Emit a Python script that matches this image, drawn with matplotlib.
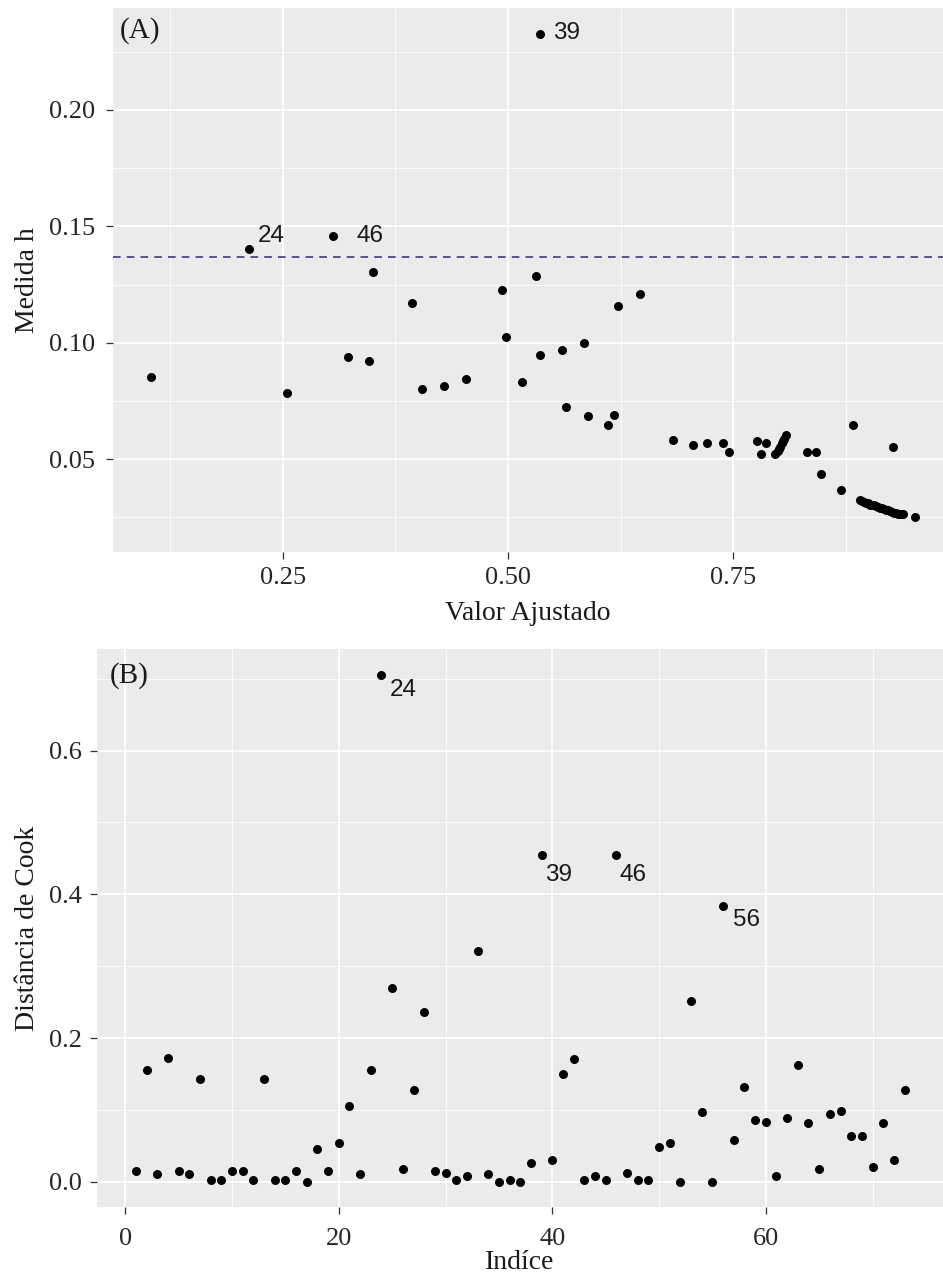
import matplotlib
matplotlib.use('Agg')
import matplotlib.pyplot as plt
from matplotlib.ticker import MultipleLocator

# (A) valores ajustados x medida h (alavancagem), n = 73, p = 5
ajustado = [0.2126, 0.5355, 0.3054,
            0.3498, 0.3938, 0.4936, 0.5314, 0.6217, 0.6464,
            0.1039, 0.2547, 0.3228, 0.3454, 0.4049, 0.4293, 0.4534, 0.4977,
            0.5155, 0.5355, 0.5595, 0.5843, 0.5646, 0.5884, 0.6106, 0.6176,
            0.6834, 0.7056, 0.7211, 0.7389, 0.7455, 0.7759, 0.7859, 0.7810,
            0.7962, 0.7990, 0.8017, 0.8040, 0.8067, 0.8089, 0.8003, 0.8054,
            0.8313, 0.8413, 0.8472, 0.8691, 0.8831, 0.9275, 0.9512,
            0.8905, 0.8927, 0.8950, 0.8972, 0.8994, 0.9016, 0.9038, 0.9060,
            0.9083, 0.9105, 0.9127, 0.9149, 0.9171, 0.9194, 0.9216, 0.9238,
            0.9260, 0.9282, 0.9305, 0.9327, 0.9349, 0.9371, 0.9382, 0.9360,
            0.9005]
medida_h = [0.1404, 0.2325, 0.1457,
            0.1303, 0.1171, 0.1225, 0.1288, 0.1157, 0.1211,
            0.0854, 0.0784, 0.0939, 0.0923, 0.0800, 0.0814, 0.0846, 0.1025,
            0.0832, 0.0948, 0.0969, 0.1000, 0.0723, 0.0684, 0.0646, 0.0691,
            0.0582, 0.0560, 0.0568, 0.0568, 0.0530, 0.0577, 0.0568, 0.0522,
            0.0522, 0.0537, 0.0552, 0.0570, 0.0587, 0.0602, 0.0545, 0.0579,
            0.0530, 0.0530, 0.0438, 0.0368, 0.0646, 0.0552, 0.0252,
            0.0325, 0.0320, 0.0316, 0.0312, 0.0310, 0.0305, 0.0303, 0.0301,
            0.0297, 0.0295, 0.0290, 0.0288, 0.0284, 0.0282, 0.0280, 0.0275,
            0.0273, 0.0269, 0.0267, 0.0265, 0.0265, 0.0265, 0.0266, 0.0265,
            0.0308]
rotulos_a = ['24', '39', '46']
pos_rot_a = [0, 1, 2]
desloc_a = [(6.5, 9), (9.5, 1), (17, 0)]
limite_h = 2 * 5 / 73

# (B) distancia de Cook por indice
indice = list(range(1, 74))
cook = [0.0157, 0.1555, 0.0107, 0.1730, 0.0157, 0.0107, 0.1430, 0.0028, 0.0028, 0.0157,
        0.0157, 0.0028, 0.1430, 0.0028, 0.0028, 0.0157, 0.0005, 0.0460, 0.0157, 0.0538,
        0.1050, 0.0107, 0.1555, 0.7044, 0.2697, 0.0181, 0.1276, 0.2367, 0.0157, 0.0130,
        0.0028, 0.0079, 0.3206, 0.0107, 0.0005, 0.0028, 0.0005, 0.0260, 0.4552, 0.0310,
        0.1503, 0.1708, 0.0028, 0.0079, 0.0028, 0.4552, 0.0130, 0.0028, 0.0028, 0.0487,
        0.0538, 0.0005, 0.2520, 0.0970, 0.0005, 0.3842, 0.0589, 0.1327, 0.0868, 0.0840,
        0.0079, 0.0895, 0.1629, 0.0817, 0.0181, 0.0947, 0.0993, 0.0640, 0.0640, 0.0209,
        0.0817, 0.0310, 0.1276]
rotulos_b = [24, 39, 46, 56]
desloc_b = [(6, -10.5), (2.5, -15), (2.5, -15), (7, -10)]

serif = ['Liberation Serif', 'DejaVu Serif']
sans = ['Liberation Sans', 'DejaVu Sans']
plt.rcParams['font.family'] = serif

fig = plt.figure(figsize=(9.43, 12.74), dpi=100)
ax1 = fig.add_axes([113 / 943, 1 - 552 / 1274, 830 / 943, 544 / 1274])
ax2 = fig.add_axes([97 / 943, 1 - 1207 / 1274, 846 / 943, 558 / 1274])


def estilo(ax, padx, pady):
    ax.set_facecolor('#EBEBEB')
    for s in ax.spines.values():
        s.set_visible(False)
    ax.grid(True, which='major', color='white', linewidth=1.2)
    ax.grid(True, which='minor', color='white', linewidth=0.6)
    ax.set_axisbelow(True)
    ax.tick_params(which='major', length=5, width=0.9, color='#333333',
                   labelsize=19, labelcolor='#262626')
    ax.tick_params(axis='x', pad=padx)
    ax.tick_params(axis='y', pad=pady)
    ax.tick_params(which='minor', length=0)


# Painel A
ax1.scatter(ajustado, medida_h, s=42, color='black', linewidths=0, zorder=3)
ax1.axhline(limite_h, color='#2E2A72', linestyle=(0, (5, 4)), linewidth=1.1, zorder=2)
for r, p, d in zip(rotulos_a, pos_rot_a, desloc_a):
    ax1.annotate(r, (ajustado[p], medida_h[p]), xytext=d, textcoords='offset points',
                 ha='left', va='center', fontsize=17.5, family=sans, color='#1a1a1a')
ax1.set_xlim(0.0617, 0.9826)
ax1.set_ylim(0.0101, 0.2438)
ax1.xaxis.set_major_locator(MultipleLocator(0.25))
ax1.xaxis.set_minor_locator(MultipleLocator(0.125))
ax1.yaxis.set_major_locator(MultipleLocator(0.05))
ax1.yaxis.set_minor_locator(MultipleLocator(0.025))
ax1.xaxis.set_major_formatter(lambda v, pos: f'{v:.2f}')
ax1.yaxis.set_major_formatter(lambda v, pos: f'{v:.2f}')
estilo(ax1, 5.5, 8)
ax1.set_xlabel('Valor Ajustado', fontsize=20, color='#1a1a1a')
ax1.set_ylabel('Medida h', fontsize=20, color='#1a1a1a')
ax1.xaxis.set_label_coords(0.5, -0.113)
ax1.xaxis.label.set_va('center')
ax1.yaxis.set_label_coords(-0.1036, 0.5)
ax1.yaxis.label.set_va('center')
ax1.text(0.0085, 0.958, '(A)', transform=ax1.transAxes, fontsize=21, ha='left',
         va='center', color='#1a1a1a')

# Painel B
ax2.scatter(indice, cook, s=42, color='black', linewidths=0, zorder=3)
for r, d in zip(rotulos_b, desloc_b):
    ax2.annotate(str(r), (r, cook[r - 1]), xytext=d, textcoords='offset points',
                 ha='left', va='center', fontsize=17.5, family=sans, color='#1a1a1a')
ax2.set_xlim(-2.65, 76.6)
ax2.set_ylim(-0.0348, 0.7412)
ax2.xaxis.set_major_locator(MultipleLocator(20))
ax2.xaxis.set_minor_locator(MultipleLocator(10))
ax2.yaxis.set_major_locator(MultipleLocator(0.2))
ax2.yaxis.set_minor_locator(MultipleLocator(0.1))
ax2.yaxis.set_major_formatter(lambda v, pos: f'{v:.1f}')
estilo(ax2, 10, 6)
ax2.set_xlabel('Indíce', fontsize=20, color='#1a1a1a')
ax2.set_ylabel('Distância de Cook', fontsize=20, color='#1a1a1a')
ax2.xaxis.set_label_coords(0.5, -0.0986)
ax2.xaxis.label.set_va('center')
ax2.yaxis.set_label_coords(-0.0827, 0.5)
ax2.yaxis.label.set_va('center')
ax2.text(0.015, 0.952, '(B)', transform=ax2.transAxes, fontsize=21, ha='left',
         va='center', color='#1a1a1a')

fig.savefig('out.png', dpi=100, facecolor='white')
